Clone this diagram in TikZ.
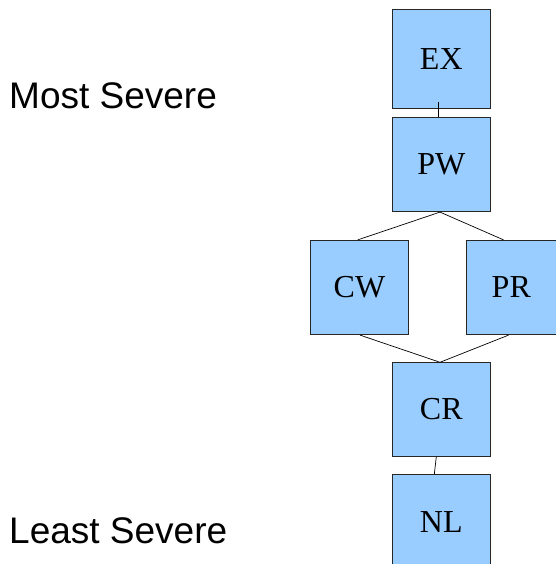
\documentclass[tikz,border=0pt]{standalone}
\usepackage{fontspec}
\setmainfont{Liberation Serif}
\newfontfamily\labelfont{Liberation Sans}
\definecolor{boxblue}{HTML}{99CCFF}
\begin{document}
\begin{tikzpicture}[x=1pt,y=1pt,
  level/.style={draw=black!85,line width=0.8pt,fill=boxblue,
    minimum width=98pt,minimum height=94.4pt,inner sep=0pt,
    font=\fontsize{32}{36}\selectfont},
  side/.style={anchor=base west,inner sep=0pt,
    font=\labelfont\fontsize{37}{41}\selectfont},
  link/.style={draw=black,line width=0.7pt}]
\useasboundingbox (0,0) rectangle (555,-564);
% severity boxes
\node[level,minimum height=98.3pt] (ex) at (441.3,-58.85) {EX};
\node[level] (pw) at (441.3,-164.5) {PW};
\node[level] (cw) at (359.5,-287.5) {CW};
\node[level,minimum width=90pt] (pr) at (511.3,-287.5) {PR};
\node[level,minimum height=93.6pt] (cr) at (441.3,-409.5) {CR};
\node[level] (nl) at (441.3,-521.9) {NL};
% scale labels
\node[side] (most) at (9,-109) {Most Severe};
\node[side] (least) at (9,-543.3) {Least Severe};
% ordering links
\draw[link] ([xshift=-2.6pt,yshift=6pt]ex.south) -- ([xshift=-2.6pt]pw.north);
\draw[link] ([xshift=-1.3pt]pw.south) -- ([xshift=-1.8pt]cw.north);
\draw[link] ([xshift=-1.3pt]pw.south) -- ([xshift=37.7pt]pr.north west);
\draw[link] ([xshift=0.5pt]cw.south) -- ([xshift=-1.3pt]cr.north);
\draw[link] ([xshift=42.7pt]pr.south west) -- ([xshift=-1.3pt]cr.north);
\draw[link] ([xshift=-5pt]cr.south) -- ([xshift=-7pt]nl.north);
\end{tikzpicture}
\end{document}
